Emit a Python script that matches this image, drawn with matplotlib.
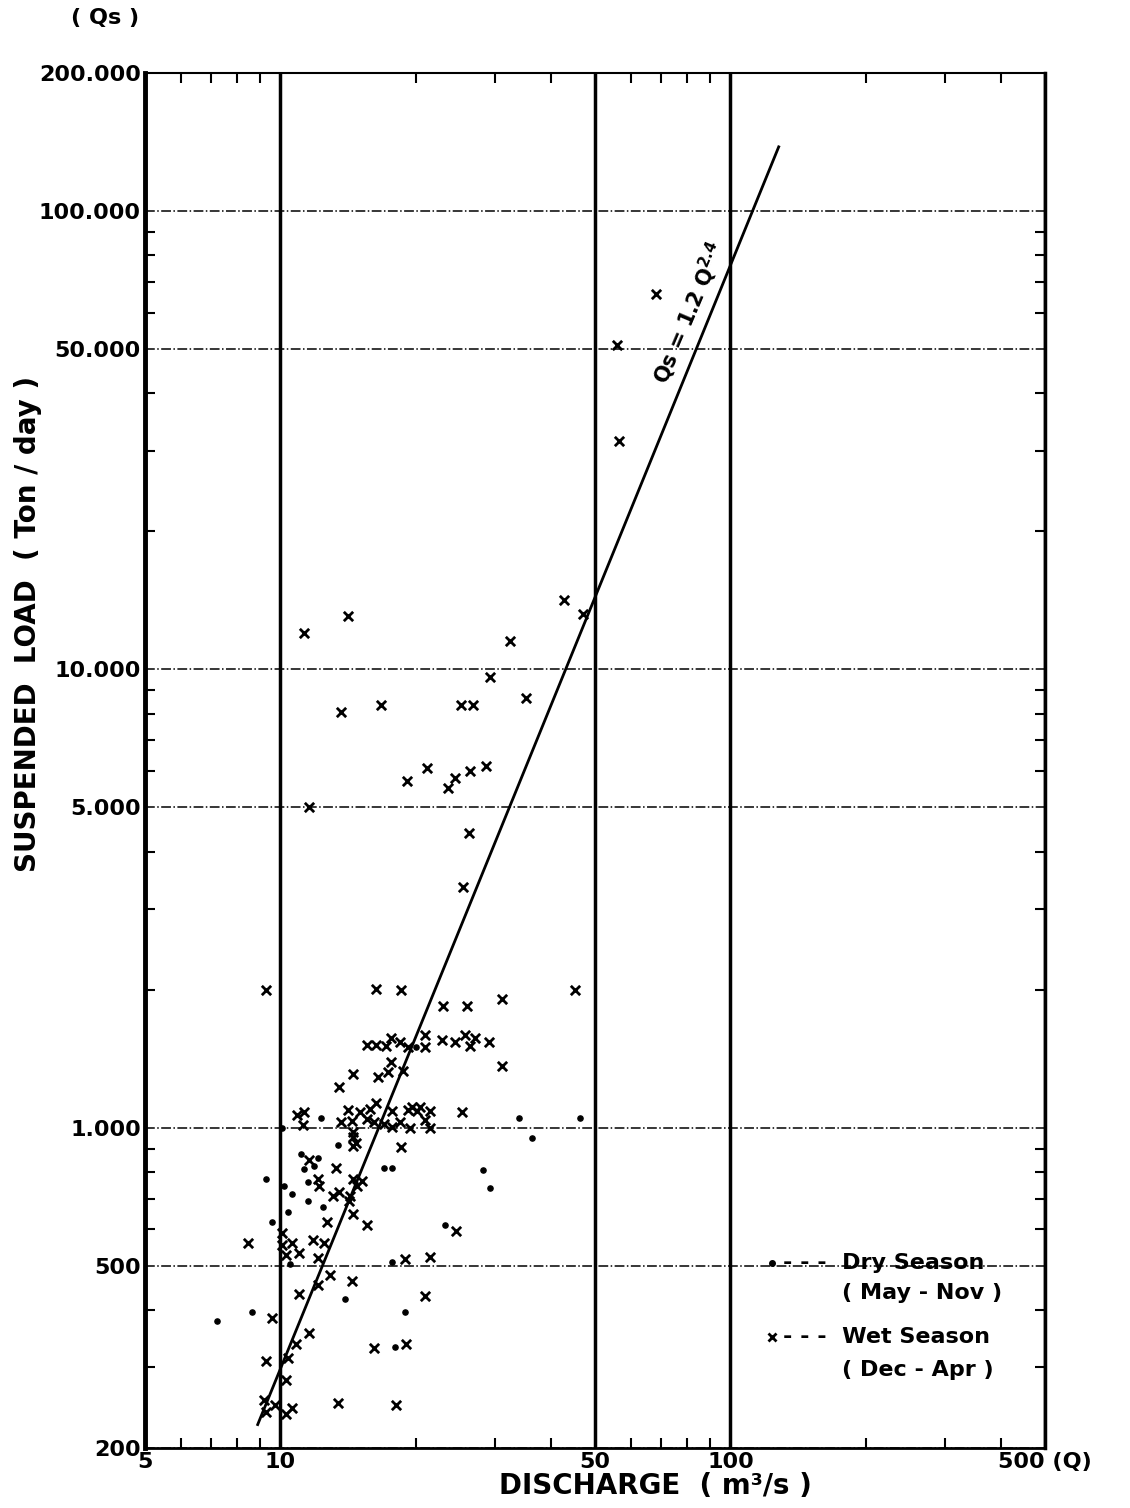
import matplotlib
matplotlib.use("Agg")
import matplotlib.pyplot as plt
import numpy as np

plt.rcParams['font.family'] = ['DejaVu Sans']
plt.rcParams['font.weight'] = 'bold'
plt.rcParams['axes.labelweight'] = 'bold'

# wet season (Dec - Apr) samples: discharge Q (m3/s), suspended load Qs (ton/day)
wet_q = [68.3, 56, 56.5,
         11.3, 14.1, 32.4, 42.7, 47,
         29.2, 35.1, 13.6, 16.7, 25.2, 26.8,
         11.6, 19.1, 21.2, 23.6, 24.4, 26.4, 28.6,
         26.2, 25.5,
         9.3, 16.3, 18.5, 23.0, 26.0, 31.1, 45.1,
         15.6, 16.3, 17.2, 17.6, 18.4, 19.2, 21.0, 21.0, 22.9, 24.4, 25.7, 27.1, 26.4, 29.1,
         17.6, 18.7, 17.3, 16.5, 14.5, 13.5, 31.1,
         10.9, 11.3, 11.2, 14.1, 13.6, 14.4, 15.0, 15.8, 16.3, 15.6, 16.1, 14.5, 14.5, 14.7,
         14.5, 17.7, 18.4, 19.2, 20.1, 21.5, 21.0, 19.4, 17.7, 17.0, 21.5, 25.3, 19.6, 20.4,
         18.5, 11.6, 13.3, 12.1, 12.2, 14.5, 15.2, 14.8, 13.1, 13.5, 14.3, 14.2, 14.5, 12.7,
         15.6, 24.6,
         8.47, 10.1, 10.1, 10.6, 11.0, 10.3, 11.8, 12.5, 12.1, 18.9, 21.5,
         12.9, 14.4, 12.1, 11.0, 20.9, 9.6, 11.6, 10.8, 9.3, 10.4, 16.1, 19.0,
         10.3, 9.2, 9.7, 9.3, 10.6, 10.3, 13.4, 18.1]
wet_qs = [66000, 51000, 31500,
          12000, 13100, 11500, 14200, 13200,
          9600, 8650, 8070, 8340, 8340, 8340,
          5000, 5700, 6080, 5500, 5790, 6000, 6160,
          4400, 3350,
          2000, 2010, 2000, 1845, 1845, 1905, 2000,
          1514, 1514, 1510, 1567, 1540, 1500, 1590, 1500, 1550, 1540, 1590, 1567, 1510, 1540,
          1393, 1330, 1325, 1290, 1310, 1227, 1360,
          1068, 1080, 1015, 1090, 1030, 1035, 1080, 1100, 1130, 1045, 1030, 980, 955, 925,
          910, 1085, 1030, 1090, 1085, 1085, 1040, 1000, 1005, 1020, 1000, 1080, 1110, 1110,
          906, 850, 817, 772, 745, 772, 765, 745, 711, 725, 708, 690, 648, 622,
          612, 594,
          560, 590, 554, 560, 532, 527, 569, 560, 519, 516, 521,
          476, 462, 453, 433, 429, 384, 356, 337, 310, 314, 331, 337,
          281, 254, 248, 240, 245, 237, 251, 248]

# dry season (May - Nov) samples
dry_q = [20.0, 12.3, 10.1, 33.9, 46.3, 36.2, 13.4, 11.1, 12.1, 11.3, 11.9, 17.0, 17.7,
         9.29, 11.5, 10.2, 10.6, 11.5, 12.4, 10.4, 9.6, 23.2, 28.2, 29.2, 10.5, 17.7,
         13.9, 8.66, 7.23, 18.9, 18.0]
dry_qs = [1500, 1050, 1000, 1050, 1050, 950, 916, 875, 860, 813, 826, 817, 817,
          772, 760, 745, 718, 690, 671, 654, 622, 612, 809, 737, 505, 508,
          422, 397, 379, 397, 333]

# rating curve Qs = 1.2 Q^2.4, end points
fit_q = [8.9, 128]
fit_qs = [225, 138000]

x_ticks = [5, 10, 50, 100, 500]
x_labels = ['5', '10', '50', '100', '500 (Q)']
y_ticks = [200, 500, 1000, 5000, 10000, 50000, 100000, 200000]
y_labels = ['200', '500', '1.000', '5.000', '10.000', '50.000', '100.000', '200.000']


def main() -> None:
    fig = plt.figure(figsize=(11.3, 15.08), dpi=100)
    ax = fig.add_axes([145 / 1130, 1 - 1448 / 1508, 900 / 1130, 1375 / 1508])

    ax.set_xscale('log')
    ax.set_yscale('log')
    ax.set_xlim(5, 500)
    ax.set_ylim(200, 200000)

    ax.set_xticks(x_ticks)
    ax.set_xticklabels(x_labels)
    ax.set_yticks(y_ticks)
    ax.set_yticklabels(y_labels)
    ax.tick_params(which='both', direction='in', top=True, right=True)
    ax.tick_params(which='major', length=0, labelsize=16)
    ax.tick_params(which='minor', length=7, width=1.5)
    ax.tick_params(axis='x', which='major', pad=3)
    ax.tick_params(axis='y', which='major', pad=3)

    ax.grid(axis='x', which='major', color='black', linestyle='-', linewidth=2.5)
    ax.grid(axis='y', which='major', color='black', linestyle='-.', linewidth=1.1)

    for side, lw in [('left', 3.5), ('right', 2.5), ('top', 1.5), ('bottom', 2.0)]:
        ax.spines[side].set_linewidth(lw)

    ax.plot(fit_q, fit_qs, color='black', linewidth=2, zorder=3)
    ax.scatter(wet_q, wet_qs, marker='x', s=45, linewidths=2, color='black', zorder=4)
    ax.scatter(dry_q, dry_qs, marker='o', s=14, color='black', zorder=4)

    ax.text(81, 60000, r'Qs = 1.2 Q$^{\mathbf{2.4}}$', rotation=67, fontsize=15,
            ha='center', va='center', rotation_mode='anchor')

    # legend drawn by hand like the original
    ax.plot([0.697], [0.1345], marker='o', ms=4, color='black', transform=ax.transAxes)
    ax.text(0.709, 0.1345, '- - -  Dry Season', transform=ax.transAxes, fontsize=16,
            va='center', ha='left')
    ax.text(0.774, 0.1127, '( May - Nov )', transform=ax.transAxes, fontsize=16,
            va='center', ha='left')
    ax.plot([0.697], [0.0807], marker='x', ms=6, mew=2, color='black', transform=ax.transAxes)
    ax.text(0.709, 0.0807, '- - -  Wet Season', transform=ax.transAxes, fontsize=16,
            va='center', ha='left')
    ax.text(0.774, 0.0567, '( Dec - Apr )', transform=ax.transAxes, fontsize=16,
            va='center', ha='left')

    ax.set_ylabel('SUSPENDED  LOAD  ( Ton / day )', fontsize=20, fontweight='bold')
    ax.yaxis.set_label_coords(-0.114, 0.599)
    ax.set_xlabel('DISCHARGE  ( m³/s )', fontsize=20, fontweight='bold')
    ax.xaxis.set_label_coords(0.567, -0.0175)
    fig.text(105 / 1130, 1 - 18 / 1508, '( Qs )', fontsize=16, ha='center', va='center')

    fig.savefig('out.png', dpi=100)
    plt.close(fig)


if __name__ == "__main__":
    main()
